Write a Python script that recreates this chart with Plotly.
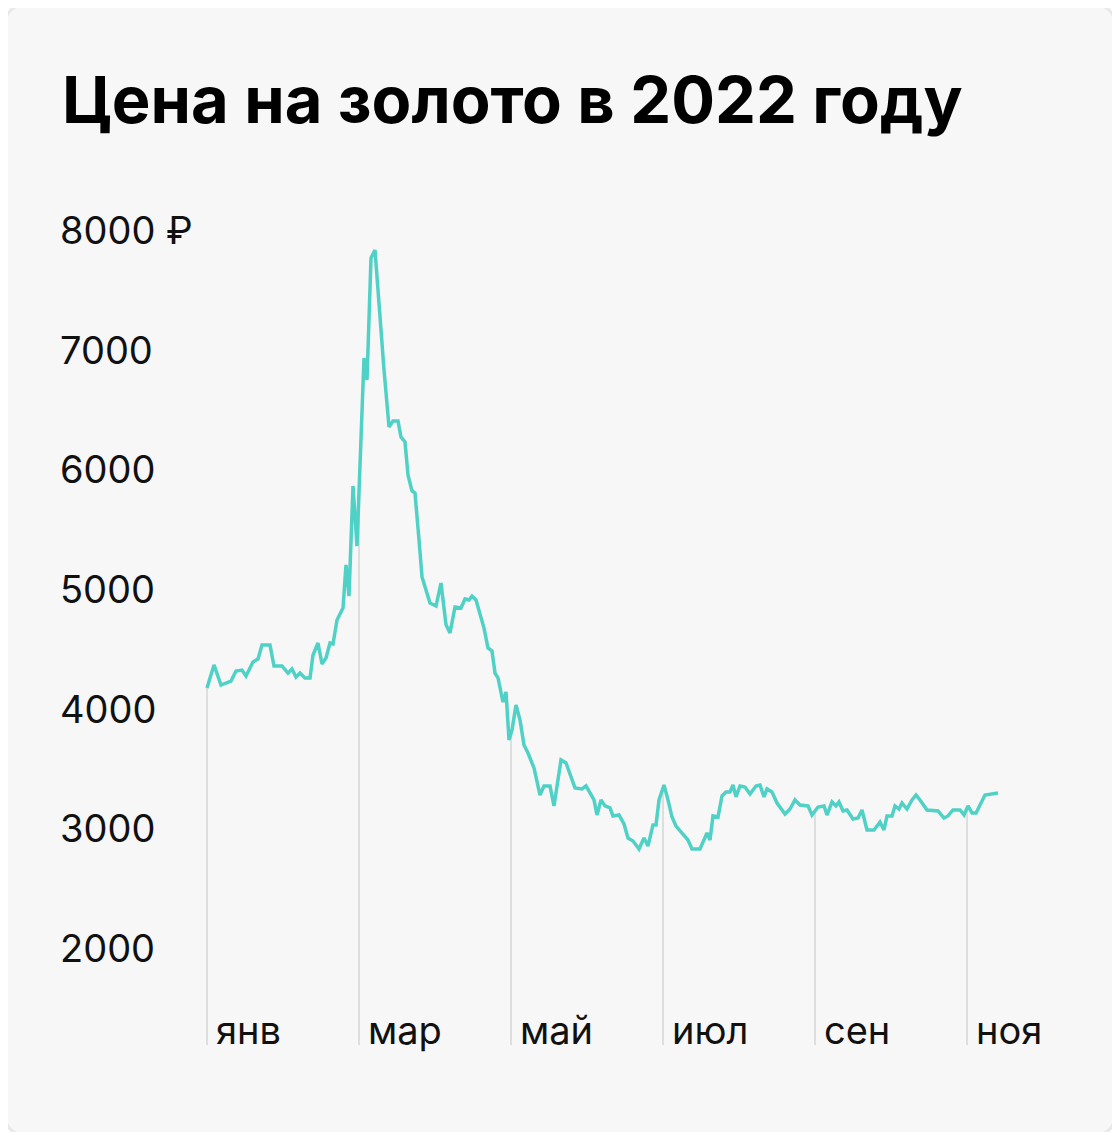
import plotly.graph_objects as go
import numpy as np

# time axis: 76 units per month, 0 = start of January
t = [0,7,14,24,29,35,39,46,51,55,63,67,75,81,85,89,93,98,103,106,111,115,119,123,126,130,136,139,142,146,150,153,157,160,164,168,172,177,182,186,191,194,198,201,205,208,212,215,219,223,229,234,239,243,248,254,258,262,265,269,277,281,285,288,291,296,299,302,305,309,313,317,321,327,333,337,343,347,354,359,368,375,379,384,387,390,394,398,403,406,412,417,421,426,432,437,441,446,449,452,457,461,465,469,476,481,485,493,500,503,506,511,515,519,523,526,529,533,538,543,549,553,557,560,565,570,578,583,588,593,601,605,611,617,620,625,629,632,636,640,646,651,655,660,667,673,677,680,685,688,692,695,700,705,709,713,720,731,737,741,746,753,757,761,765,769,778,791]
price = [4172,4365,4197,4230,4314,4322,4272,4390,4414,4531,4531,4356,4356,4297,4331,4264,4297,4256,4256,4448,4548,4373,4423,4548,4540,4740,4840,5200,4940,5860,5358,6077,6929,6745,7764,7831,7372,6829,6353,6403,6403,6269,6227,5952,5818,5801,5409,5100,4990,4882,4857,5049,4700,4632,4849,4840,4916,4907,4940,4907,4673,4506,4482,4297,4256,4055,4139,3738,3821,4030,3905,3696,3629,3504,3278,3354,3354,3187,3571,3546,3337,3329,3354,3278,3237,3111,3237,3187,3170,3103,3111,3036,2919,2894,2827,2919,2852,3028,3028,3237,3362,3237,3094,3019,2944,2902,2827,2827,2961,2902,3103,3094,3270,3303,3303,3362,3262,3354,3345,3287,3354,3362,3262,3329,3303,3211,3119,3161,3237,3195,3187,3111,3178,3187,3111,3220,3187,3220,3145,3153,3078,3086,3153,2986,2986,3053,2986,3103,3103,3187,3161,3211,3161,3237,3278,3237,3153,3145,3086,3103,3153,3153,3111,3187,3128,3128,3278,3295]
month_labels = ["янв","мар","май","июл","сен","ноя"]
month_pos = [0,152,304,456,608,760]
y_ticks = [2000,3000,4000,5000,6000,7000,8000]
y_tick_text = ["2000","3000","4000","5000","6000","7000","8000 ₽"]

OFF = 8
W, H = 1120 - 2 * OFF, 1140 - 2 * OFF
X0 = 207 - OFF
PPV = 0.1197
Y2000 = 948 - OFF
yr = [2000 - (H - Y2000) / PPV, 2000 + Y2000 / PPV]
xr = [-X0, W - X0]

fig = go.Figure()
fig.add_trace(go.Scatter(x=t, y=price, mode="lines",
                         line=dict(color="#4fd1c5", width=3.5), hoverinfo="skip"))

shapes = []
r = 30
def px(x): return (x - OFF) / W
def py(y): return 1 - (y - OFF) / H
x1, y1, x2, y2 = 3, 3, 1117, 1137
path = (f"M {px(x1+r)},{py(y1)} L {px(x2-r)},{py(y1)} Q {px(x2)},{py(y1)} {px(x2)},{py(y1+r)} "
        f"L {px(x2)},{py(y2-r)} Q {px(x2)},{py(y2)} {px(x2-r)},{py(y2)} "
        f"L {px(x1+r)},{py(y2)} Q {px(x1)},{py(y2)} {px(x1)},{py(y2-r)} "
        f"L {px(x1)},{py(y1+r)} Q {px(x1)},{py(y1)} {px(x1+r)},{py(y1)} Z")
shapes.append(dict(type="path", xref="paper", yref="paper", path=path,
                   fillcolor="#f7f7f7", line=dict(color="#e8e8e8", width=3), layer="below"))

y_bottom = 2000 - (1045 - 948) / PPV
for m in month_pos:
    top = float(np.interp(m, t, price))
    shapes.append(dict(type="line", xref="x", yref="y", x0=m, x1=m, y0=y_bottom, y1=top,
                       line=dict(color="#d6d6d6", width=1.5), layer="below"))

ann = []
ann.append(dict(text="<b>Цена на золото в 2022 году</b>", xref="paper", yref="paper",
                x=px(60), y=py(100), xanchor="left", yanchor="middle", showarrow=False,
                font=dict(family="Inter", size=65, color="#000")))
for v, s in zip(y_ticks, y_tick_text):
    ann.append(dict(text=s, xref="paper", yref="y", x=px(58), y=v, xanchor="left",
                    yanchor="middle", showarrow=False, font=dict(family="Inter", size=38, color="#111")))
for m, s in zip(month_pos, month_labels):
    ann.append(dict(text=s, xref="x", yref="paper", x=m + 7, y=py(1030), xanchor="left",
                    yanchor="middle", showarrow=False, font=dict(family="Inter", size=38, color="#111")))

fig.update_layout(width=W, height=H, margin=dict(l=0, r=0, t=0, b=0),
                  paper_bgcolor="white", plot_bgcolor="rgba(0,0,0,0)", showlegend=False,
                  xaxis=dict(range=xr, visible=False, fixedrange=True),
                  yaxis=dict(range=yr, visible=False, fixedrange=True),
                  shapes=shapes, annotations=ann)
fig.write_html("out.html")
